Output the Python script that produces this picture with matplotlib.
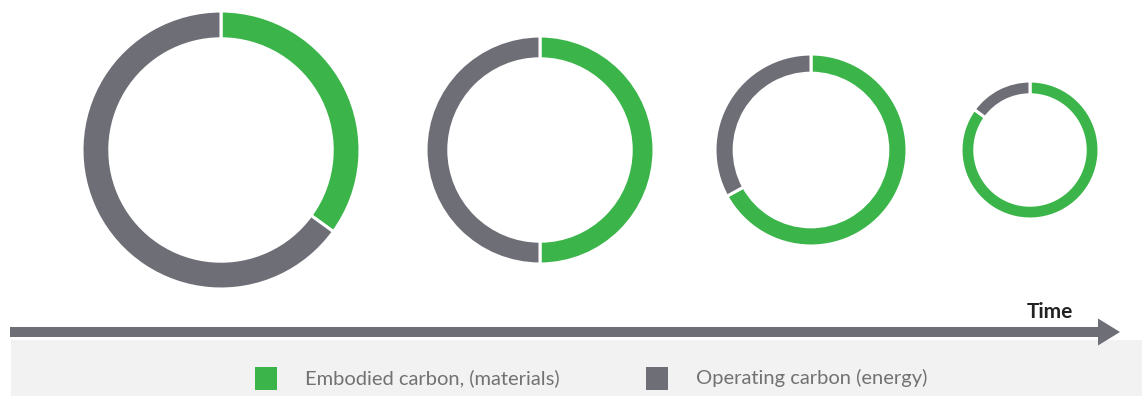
import matplotlib.pyplot as plt
from matplotlib.patches import Rectangle

# share of lifetime carbon per stage (percent)
embodied = [35, 50, 67, 85]
operating = [65, 50, 33, 15]
legend_labels = ["Embodied carbon, (materials)", "Operating carbon (energy)"]
axis_label = "Time"

GREEN = "#3bb54a"
GREY = "#6e6e77"
W, H = 1142, 396

# layout in pixel units (y measured from the bottom)
centers_x = [221, 540, 811, 1030]
center_y = H - 150
radii = [139, 114, 96, 69]
ring = 0.20

fig = plt.figure(figsize=(W / 100, H / 100), dpi=100)
ax = fig.add_axes([0, 0, 1, 1])

for cx, r, e, o in zip(centers_x, radii, embodied, operating):
    ax.pie([e, o], colors=[GREEN, GREY], startangle=90, counterclock=False,
           center=(cx, center_y), radius=r, frame=True,
           wedgeprops=dict(width=r * ring, edgecolor="white", linewidth=2.2))

# light band behind the legend
ax.add_patch(Rectangle((11, 0), W - 11, 56, facecolor="#f2f2f2", edgecolor="none", zorder=0))

# time arrow
ax.arrow(10, H - 332, 1110, 0, width=10, head_width=27, head_length=22,
         length_includes_head=True, facecolor=GREY, edgecolor="none", zorder=3)
ax.text(1073, H - 312, axis_label, ha="right", va="center", fontsize=15,
        fontweight="bold", color="#222222", family="Lato")

# legend
for x0, col, lab in zip([255, 646], [GREEN, GREY], legend_labels):
    ax.add_patch(Rectangle((x0, H - 390), 22, 23, facecolor=col, edgecolor="none"))
    ax.text(x0 + 50, H - 378, lab, ha="left", va="center", fontsize=14.5,
            color="#727272", family="Lato")

ax.set_xlim(0, W)
ax.set_ylim(0, H)
ax.set_aspect("auto")
ax.axis("off")

plt.savefig("out.png", dpi=100, facecolor="white")
